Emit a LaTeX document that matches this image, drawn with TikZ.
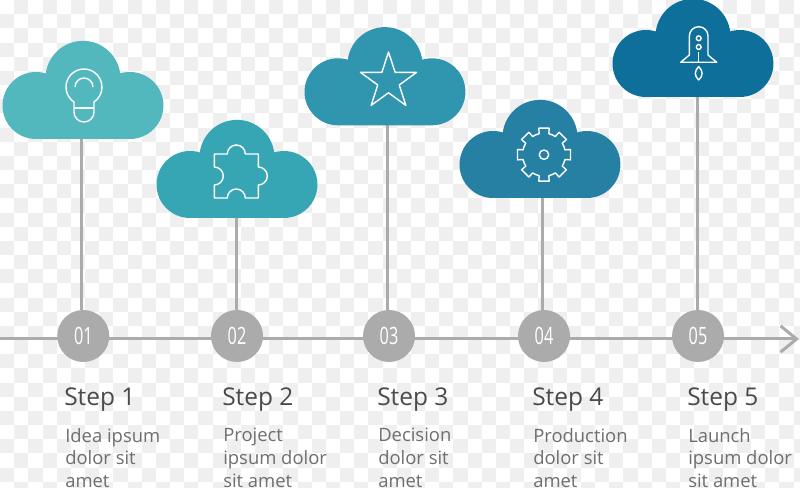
\documentclass[tikz,border=0pt]{standalone}
\usepackage{fontspec}
\setmainfont{Open Sans}
\newfontfamily\stepnumfont[FakeStretch=0.68]{Open Sans}
\usetikzlibrary{arrows.meta,positioning}
\definecolor{CheckGray}{HTML}{EFEFEF}
\definecolor{AxisGray}{HTML}{ABABAB}
\definecolor{TitleGray}{HTML}{4A4A4A}
\definecolor{BodyGray}{HTML}{6E6E6E}
\definecolor{CloudOne}{HTML}{53B7BE}
\definecolor{CloudTwo}{HTML}{36A6B5}
\definecolor{CloudThree}{HTML}{3095AE}
\definecolor{CloudFour}{HTML}{2680A4}
\definecolor{CloudFive}{HTML}{0E6F9A}

\begin{document}
\begin{tikzpicture}[
    x=0.25mm,y=0.25mm,
    axisline/.style={-{Straight Barb[length=4mm,width=6.5mm]},line width=0.75mm,draw=AxisGray},
    stem/.style={line width=0.75mm,draw=AxisGray},
    dot/.style={
      circle,
      fill=AxisGray,
      minimum size=13mm,
      inner sep=0pt,
      text=white,
      font=\stepnumfont\fontsize{17}{19}\selectfont
    },
    steptitle/.style={
      anchor=base west,
      inner sep=0pt,
      text=TitleGray,
      font=\fontsize{17.4}{20}\selectfont
    },
    stepbody/.style={
      inner sep=0pt,
      align=left,
      text=BodyGray,
      font=\fontsize{13.1}{16.2}\selectfont
    },
    iconline/.style={draw=white,line width=0.35mm,line join=round},
    cloudblob/.pic={
      \fill[#1] (-47,0) arc[start angle=270,end angle=73,radius=33.5]
        arc[start angle=172.5,end angle=7.5,radius=37.5]
        arc[start angle=107,end angle=-90,radius=33.5] -- cycle;
    },
    bulbicon/.pic={
      \draw[iconline] (-10,-15) arc[start angle=236.3,end angle=-56.3,radius=18]
        -- (10,-25) arc[start angle=0,end angle=-180,radius=10] -- cycle;
      \draw[iconline] (-10,-21) -- (10,-21);
      \draw[iconline] (-9,0) arc[start angle=180,end angle=0,radius=9];
    },
    puzzleicon/.pic={
      \draw[iconline] (-22,22) -- (-9,22) arc[start angle=180,end angle=0,radius=9]
        -- (22,22) -- (22,9) arc[start angle=90,end angle=-90,radius=9]
        -- (22,-22) -- (9,-22) arc[start angle=0,end angle=180,radius=9]
        -- (-22,-22) -- (-22,-9) arc[start angle=-90,end angle=90,radius=9] -- cycle;
    },
    staricon/.pic={
      \draw[iconline] (90:29.5) -- (126:11.3) -- (162:29.5) -- (198:11.3)
        -- (234:29.5) -- (270:11.3) -- (306:29.5) -- (342:11.3)
        -- (18:29.5) -- (54:11.3) -- cycle;
    },
    gearicon/.pic={
      \draw[iconline] (-13:21.5) \foreach \a in {0,45,...,315}{
        -- (\a-13:21.5) -- (\a-11:27) -- (\a+11:27) -- (\a+13:21.5)
        arc[start angle=\a+13,end angle=\a+32,radius=21.5]} -- cycle;
      \draw[iconline] (0,0) circle[radius=4.7];
    },
    rocketicon/.pic={
      \draw[iconline] (-9.3,-5) -- (-9.3,14) arc[start angle=180,end angle=0,radius=9.3]
        -- (9.3,-5) -- (18,-12.3) -- (-18,-12.3) -- cycle;
      \draw[iconline] (0,-2) -- (0,-12.3);
      \draw[iconline] (0,11.7) circle[radius=2.4];
      \draw[iconline] (0,3) circle[radius=2.4];
      \draw[iconline] (0,-16.6) .. controls (-4.5,-21) and (-4.5,-26) .. (0,-30)
        .. controls (4.5,-26) and (4.5,-21) .. (0,-16.6) -- cycle;
    }
  ]
    \useasboundingbox (0,0) rectangle (800,488);
    % checker ground
    \begin{scope}
      \clip (0,0) rectangle (800,488);
      \fill[white] (0,0) rectangle (800,488);
      \foreach \i in {0,...,56}
        \foreach \j in {0,...,34}{
          \ifodd\numexpr\i+\j\relax
            \fill[CheckGray] (\i*14.17,488-\j*14.17) rectangle ++(14.17,-14.17);
          \fi
        }
    \end{scope}

    \coordinate (axisstart) at (0,149);
    \coordinate (axisend) at (799,149);
    \draw[axisline] (axisstart) -- (axisend);

    \node[dot] (dot1) at (83.3,152) {01};
    \node[dot] (dot2) at (237,152) {02};
    \node[dot] (dot3) at (389,152) {03};
    \node[dot] (dot4) at (544,152) {04};
    \node[dot] (dot5) at (698,152) {05};

    \coordinate (base1) at (81,350);
    \coordinate (base2) at (236,271);
    \coordinate (base3) at (387,364);
    \coordinate (base4) at (542,291);
    \coordinate (base5) at (697,392);
    \foreach \n in {1,...,5}
      \draw[stem] (base\n) -- (base\n |- dot\n.north);

    \pic at (83,349) {cloudblob=CloudOne};
    \pic at (237,270) {cloudblob=CloudTwo};
    \pic at (385,362.7) {cloudblob=CloudThree};
    \pic at (540,290) {cloudblob=CloudFour};
    \pic at (693,391) {cloudblob=CloudFive};

    \pic at (84,401) {bulbicon};
    \pic at (236.3,312) {puzzleicon};
    \pic at (388.5,406.5) {staricon};
    \pic at (544,333.3) {gearicon};
    \pic at (698.7,438) {rocketicon};

    \node[steptitle] (title1) at (64,82) {Step 1};
    \node[steptitle] (title2) at (222,82) {Step 2};
    \node[steptitle] (title3) at (377,82) {Step 3};
    \node[steptitle] (title4) at (532,82) {Step 4};
    \node[steptitle] (title5) at (687,82) {Step 5};

    \node[stepbody,below right=3.9mm and 0.25mm of title1.south west] (body1) {Idea ipsum\\dolor sit\\amet};
    \node[stepbody,below right=3.9mm and 0.25mm of title2.south west] (body2) {Project\\ipsum dolor\\sit amet};
    \node[stepbody,below right=3.9mm and 0.25mm of title3.south west] (body3) {Decision\\dolor sit\\amet};
    \node[stepbody,below right=3.9mm and 0.25mm of title4.south west] (body4) {Production\\dolor sit\\amet};
    \node[stepbody,below right=3.9mm and 0.25mm of title5.south west] (body5) {Launch\\ipsum dolor\\sit amet};
  \end{tikzpicture}
\end{document}
